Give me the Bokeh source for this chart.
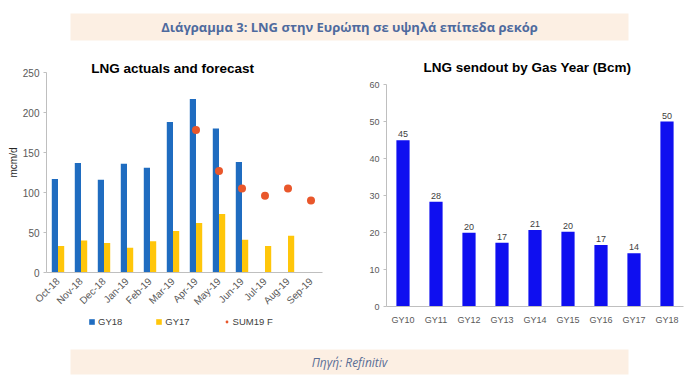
from math import pi
from bokeh.plotting import figure
from bokeh.models import (Range1d, FactorRange, Label, Legend, LegendItem, ColumnDataSource,
                          FixedTicker)
from bokeh.core.properties import value
from bokeh.layouts import column, row
from bokeh.transform import dodge
from bokeh.embed import file_html
from bokeh.resources import INLINE

# ---------------- data ----------------
months = ["Oct-18", "Nov-18", "Dec-18", "Jan-19", "Feb-19", "Mar-19",
          "Apr-19", "May-19", "Jun-19", "Jul-19", "Aug-19", "Sep-19"]
gy18_months = months[:9]
gy18_vals = [117, 137, 116, 136, 131, 188, 217, 180, 138]
gy17_months = months[:11]
gy17_vals = [33, 40, 37, 31, 39, 52, 62, 73, 41, 33, 46]
sum19_months = months[6:]
sum19_vals = [178, 127, 105, 96, 105, 90]

gas_years = ["GY10", "GY11", "GY12", "GY13", "GY14", "GY15", "GY16", "GY17", "GY18"]
sendout = [44.9, 28.3, 19.9, 17.2, 20.7, 20.2, 16.6, 14.4, 50.0]

left_yticks = [0, 50, 100, 150, 200, 250]
right_yticks = [0, 10, 20, 30, 40, 50, 60]

header_text = "Διάγραμμα 3: LNG στην Ευρώπη σε υψηλά επίπεδα ρεκόρ"
footer_text = "Πηγή: Refinitiv"
left_title = "LNG actuals and forecast"
right_title = "LNG sendout by Gas Year (Bcm)"

# ---------------- styles ----------------
BAND = "#FCEFE3"
HDR_COLOR = "#4E6A9E"
AXIS_COLOR = "#BFBFBF"
TICK_COLOR = "#595959"
FONT = "Liberation Sans"
BLUE18 = "#1F6CC0"
YEL17 = "#FFC60A"
ORANGE = "#E9572B"
BLUE_R = "#0F0FF0"


def band_fig(top, band_h, bottom, text, style, size, color):
    f = figure(frame_width=558, frame_height=band_h, x_range=Range1d(0, 1), y_range=Range1d(0, 1),
               toolbar_location=None, output_backend="svg",
               min_border_left=70, min_border_right=58, min_border_top=top,
               min_border_bottom=bottom,
               x_axis_location=None, y_axis_location=None,
               background_fill_color=BAND, border_fill_color="white",
               outline_line_color=None)
    f.grid.visible = False
    f.add_layout(Label(x=0.5, y=0.5, text=text, text_align="center", text_baseline="middle",
                       text_font="Open Sans", text_font_style=style,
                       text_font_size=size, text_color=color))
    return f


def style_axes(p, tick_size):
    for ax in (p.xaxis[0], p.yaxis[0]):
        ax.axis_line_color = AXIS_COLOR
        ax.major_tick_line_color = AXIS_COLOR
        ax.minor_tick_line_color = None
        ax.major_label_text_font = FONT
        ax.major_label_text_font_size = tick_size
        ax.major_label_text_color = TICK_COLOR
        ax.major_tick_in = 0
        ax.major_tick_out = 3
    p.xaxis.major_tick_line_color = None
    p.grid.visible = False


header = band_fig(13, 27, 8, header_text, "bold", "13px", HDR_COLOR)
footer = band_fig(8, 25, 5, footer_text, "italic", "12px", "#5A6E96")

# ---------------- left chart ----------------
p1 = figure(frame_width=276, frame_height=220,
            x_range=FactorRange(factors=months, range_padding=0),
            y_range=Range1d(0, 275), toolbar_location=None, output_backend="svg",
            min_border_left=46, min_border_right=23, min_border_top=4, min_border_bottom=40,
            outline_line_color=None, background_fill_color="white", border_fill_color="white")
s18 = ColumnDataSource(dict(m=gy18_months, v=gy18_vals))
s17 = ColumnDataSource(dict(m=gy17_months, v=gy17_vals))
ssum = ColumnDataSource(dict(m=sum19_months, v=sum19_vals))
bar18 = dict(x=dodge("m", -0.135, range=p1.x_range), top="v", width=0.27, source=s18,
             fill_color=BLUE18, line_color=None)
bar17 = dict(x=dodge("m", 0.135, range=p1.x_range), top="v", width=0.27, source=s17,
             fill_color=YEL17, line_color=None)
dots = dict(x="m", y="v", size=8, source=ssum, fill_color=ORANGE, line_color=None)
p1.vbar(**bar18)
p1.vbar(**bar17)
p1.scatter(**dots)
style_axes(p1, "10px")
p1.yaxis.ticker = FixedTicker(ticks=left_yticks)
p1.yaxis.bounds = (0, 250)
p1.yaxis.major_label_standoff = 4
p1.yaxis.axis_label = "mcm/d"
p1.yaxis.axis_label_text_font = FONT
p1.yaxis.axis_label_text_font_size = "10px"
p1.yaxis.axis_label_text_font_style = "normal"
p1.yaxis.axis_label_text_color = "#262626"
p1.yaxis.axis_label_standoff = 1
p1.xaxis.major_label_orientation = pi / 4
p1.xaxis.major_label_standoff = 4
p1.add_layout(Label(x=5.48, y=255, text=left_title, text_align="center", text_baseline="middle",
                    text_font=FONT, text_font_style="bold", text_font_size="13.5px",
                    text_color="black"))

# legend strip under the left chart (same sources, hidden renderers -> legend swatches only)
leg = figure(frame_width=345, frame_height=28, x_range=p1.x_range, y_range=Range1d(0, 1),
             toolbar_location=None, output_backend="svg",
             min_border_left=0, min_border_right=0, min_border_top=0, min_border_bottom=0,
             x_axis_location=None, y_axis_location=None, outline_line_color=None,
             background_fill_color="white", border_fill_color="white")
leg.grid.visible = False
l18 = leg.vbar(**bar18, visible=False)
l17 = leg.vbar(**bar17, visible=False)
lsum = leg.scatter(**dots, visible=False)
legend = Legend(items=[LegendItem(label="GY18", renderers=[l18]),
                       LegendItem(label="GY17", renderers=[l17]),
                       LegendItem(label="SUM19 F", renderers=[lsum])],
                orientation="horizontal", location=(88, 14),
                glyph_width=7, glyph_height=7, label_standoff=3, spacing=33,
                padding=0, margin=0, label_text_font=FONT, label_text_font_size="9.5px",
                label_text_color="#404040", background_fill_alpha=0, border_line_color=None,
                inactive_fill_alpha=0)
leg.add_layout(legend)

# ---------------- right chart ----------------
p2 = figure(frame_width=297, frame_height=254,
            x_range=FactorRange(factors=gas_years, range_padding=0),
            y_range=Range1d(0, 68.65), toolbar_location=None, output_backend="svg",
            min_border_left=41, min_border_right=3, min_border_top=4, min_border_bottom=34,
            outline_line_color=None, background_fill_color="white", border_fill_color="white")
src2 = ColumnDataSource(dict(g=gas_years, v=sendout, t=[f"{round(v)}" for v in sendout]))
p2.vbar(x="g", top="v", width=0.4, source=src2, fill_color=BLUE_R, line_color=None)
p2.text(x="g", y="v", text="t", source=src2, y_offset=-3, text_align="center",
        text_baseline="bottom", text_font=value(FONT), text_font_size="9px",
        text_color="#404040")
style_axes(p2, "9px")
p2.yaxis.ticker = FixedTicker(ticks=right_yticks)
p2.yaxis.bounds = (0, 60)
p2.yaxis.major_label_standoff = 4
p2.xaxis.major_label_standoff = 5
p2.add_layout(Label(x=4.27, y=64.6, text=right_title, text_align="center", text_baseline="middle",
                    text_font=FONT, text_font_style="bold", text_font_size="13.5px",
                    text_color="black"))

layout = column(header, row(column(p1, leg), p2), footer)
open("out.html", "w").write(file_html(layout, INLINE))
